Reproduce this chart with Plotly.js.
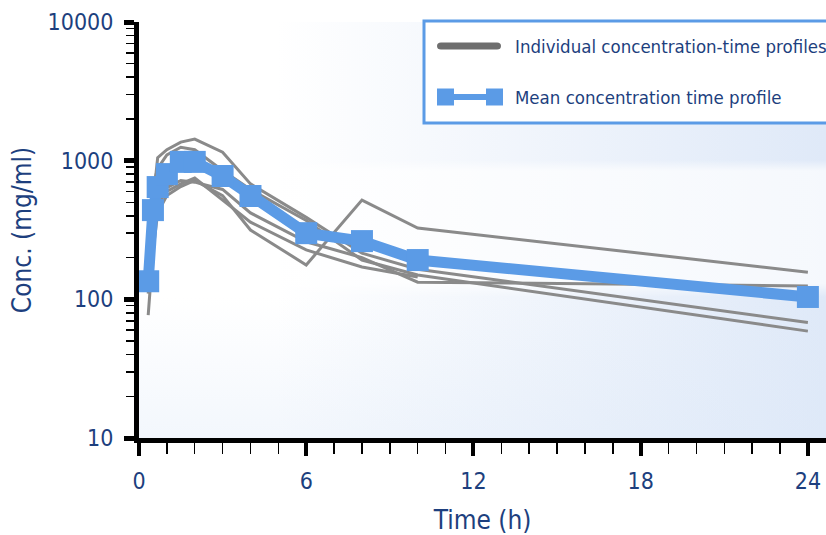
<!DOCTYPE html>
<html>
<head>
<meta charset="utf-8">
<script src="https://cdn.plot.ly/plotly-3.0.1.min.js"></script>
<style>
html,body{margin:0;padding:0;background:#fff;}
#chart{width:826px;height:535px;}
#chart svg text{font-stretch:condensed;}
</style>
</head>
<body>
<div id="chart"></div>
<script>
// ---- data ----
const times = [0.33, 0.5, 0.67, 1, 1.5, 2, 3, 4, 6, 8, 10, 24];
const meanConc = [135, 440, 645, 800, 980, 980, 775, 556, 300, 263, 192, 104];
const subject1 = [150, 500, 1050, 1200, 1360, 1430, 1150, 680, 390, 215, 165, 68];
const subject2 = [170, 650, 880, 1100, 1250, 1200, 850, 620, 370, 192, 150, 59];
const subject3 = [77, 220, 420, 560, 650, 720, 560, 316, 177, 520, 327, 157];
const subject4 = [110, 300, 480, 600, 680, 750, 520, 360, 227, 171, 145, null];
const subject5 = [130, 350, 520, 640, 720, 700, 620, 420, 260, 200, 133, 125];
const subjects = [subject1, subject2, subject3, subject4, subject5];
const xTickVals = [0, 6, 12, 18, 24];
const yTickVals = [10, 100, 1000, 10000];
const yTickText = ['10', '100', '1000', '10000'];
const legendLabels = ['Individual concentration-time profiles', 'Mean concentration time profile'];

const NAVY = '#1d3f7e';
const BLUE = '#5b9be6';
const GRAY = '#8a8a8a';
const FONT = '"DejaVu Sans Condensed", "DejaVu Sans", sans-serif';

// background gradient built on a canvas
function gradientURL() {
  const c = document.createElement('canvas');
  c.width = 687; c.height = 416;
  const g = c.getContext('2d');
  const lg = g.createLinearGradient(0, 0, 687, 0);
  lg.addColorStop(0, '#ffffff');
  lg.addColorStop(0.2, '#ffffff');
  lg.addColorStop(1, '#dfe9f8');
  g.fillStyle = lg; g.fillRect(0, 0, 687, 416);
  const band = g.createLinearGradient(0, 138, 0, 275);
  band.addColorStop(0, 'rgba(255,255,255,0)');
  band.addColorStop(0.08, 'rgba(255,255,255,0.7)');
  band.addColorStop(0.9, 'rgba(255,255,255,0.7)');
  band.addColorStop(1, 'rgba(255,255,255,0)');
  g.fillStyle = band; g.fillRect(0, 138, 687, 137);
  const vb = g.createLinearGradient(0, 275, 0, 416);
  vb.addColorStop(0, 'rgba(220,232,248,0)');
  vb.addColorStop(1, 'rgba(220,232,248,0.35)');
  g.fillStyle = vb; g.fillRect(0, 275, 687, 141);
  return c.toDataURL('image/png');
}

const traces = subjects.map(s => ({
  x: times, y: s, type: 'scatter', mode: 'lines',
  line: {color: GRAY, width: 3}, showlegend: false, connectgaps: false,
  hoverinfo: 'skip'
}));
traces.push({
  x: times, y: meanConc, type: 'scatter', mode: 'lines+markers',
  line: {color: BLUE, width: 11},
  marker: {symbol: 'square', size: 22, color: BLUE},
  showlegend: false
});

const minorY = [];
[10, 100, 1000].forEach(d => { for (let k = 2; k <= 9; k++) minorY.push(k * d); });

const W = 687, H = 416, L = 139, T = 22;
const px = v => (v - L) / W;
const py = v => (T + H - v) / H;

const layout = {
  width: 826, height: 535,
  margin: {l: 139, r: 0, t: 22, b: 97, pad: 0},
  paper_bgcolor: '#ffffff',
  plot_bgcolor: 'rgba(0,0,0,0)',
  font: {family: FONT, color: NAVY},
  showlegend: false,
  xaxis: {
    range: [0, 24.65], tickmode: 'array', tickvals: xTickVals,
    ticks: 'outside', ticklen: 13, tickwidth: 4, tickcolor: '#000',
    showline: true, linewidth: 4.5, linecolor: '#000',
    showgrid: false, zeroline: false,
    minor: {tickmode: 'linear', tick0: 0, dtick: 1, ticks: 'outside', ticklen: 11, tickwidth: 1.5, tickcolor: '#000', showgrid: false},
    tickfont: {family: FONT, size: 23, color: NAVY},
    ticklabelstandoff: 6,
    title: {text: 'Time (h)', font: {family: FONT, size: 26, color: NAVY}, standoff: 20},
    automargin: false
  },
  yaxis: {
    type: 'log', range: [1, 4], tickmode: 'array', tickvals: yTickVals, ticktext: yTickText,
    ticks: 'outside', ticklen: 10, tickwidth: 5, tickcolor: '#000',
    showline: true, linewidth: 5, linecolor: '#000',
    showgrid: false, zeroline: false,
    minor: {tickmode: 'array', tickvals: minorY, ticks: 'outside', ticklen: 8, tickwidth: 1.5, tickcolor: '#000', showgrid: false},
    tickfont: {family: FONT, size: 23, color: NAVY},
    ticklabelstandoff: 6,
    title: {text: 'Conc. (mg/ml)', font: {family: FONT, size: 26, color: NAVY}, standoff: 10},
    automargin: false
  },
  images: [{
    source: gradientURL(), xref: 'paper', yref: 'paper',
    x: 0, y: 1, sizex: 1, sizey: 1, sizing: 'stretch', layer: 'below'
  }],
  shapes: [
    {type: 'rect', xref: 'paper', yref: 'paper', x0: px(424), x1: px(840), y0: py(123), y1: py(21),
     line: {color: BLUE, width: 3}, fillcolor: '#ffffff', layer: 'above'},
    {type: 'path', xref: 'paper', yref: 'paper', xsizemode: 'pixel', ysizemode: 'pixel',
     xanchor: px(469), yanchor: py(46),
     path: 'M -28,-3.5 L 28,-3.5 Q 32,-3.5 32,0 Q 32,3.5 28,3.5 L -28,3.5 Q -32,3.5 -32,0 Q -32,-3.5 -28,-3.5 Z',
     fillcolor: '#6e6e6e', line: {width: 0}, layer: 'above'},
    {type: 'rect', xref: 'paper', yref: 'paper', xsizemode: 'pixel', ysizemode: 'pixel',
     xanchor: px(470), yanchor: py(97), x0: -32, x1: 32, y0: -3, y1: 3,
     fillcolor: BLUE, line: {width: 0}, layer: 'above'},
    {type: 'rect', xref: 'paper', yref: 'paper', xsizemode: 'pixel', ysizemode: 'pixel',
     xanchor: px(446), yanchor: py(97), x0: -9, x1: 8, y0: -8.5, y1: 8.5,
     fillcolor: BLUE, line: {width: 0}, layer: 'above'},
    {type: 'rect', xref: 'paper', yref: 'paper', xsizemode: 'pixel', ysizemode: 'pixel',
     xanchor: px(494), yanchor: py(97), x0: -8, x1: 9, y0: -8.5, y1: 8.5,
     fillcolor: BLUE, line: {width: 0}, layer: 'above'}
  ],
  annotations: [
    {xref: 'paper', yref: 'paper', x: px(513), y: py(46), xanchor: 'left', yanchor: 'middle',
     text: legendLabels[0], showarrow: false, font: {family: FONT, size: 18.5, color: NAVY}},
    {xref: 'paper', yref: 'paper', x: px(513), y: py(97), xanchor: 'left', yanchor: 'middle',
     text: legendLabels[1], showarrow: false, font: {family: FONT, size: 18.5, color: NAVY}}
  ]
};

Plotly.newPlot('chart', traces, layout, {displayModeBar: false, staticPlot: true});
</script>
</body>
</html>
